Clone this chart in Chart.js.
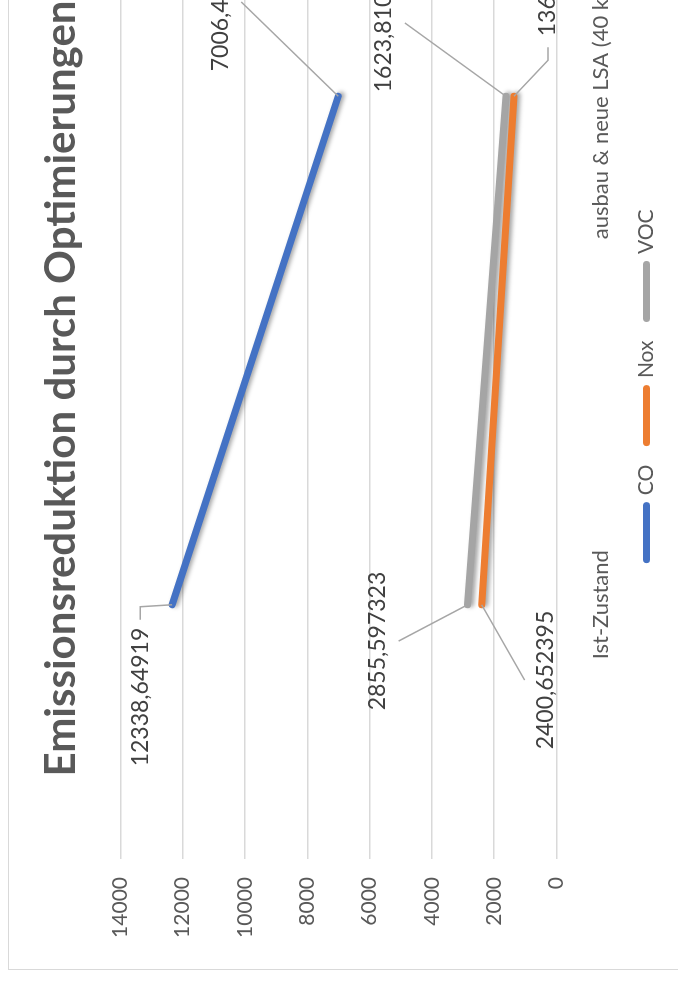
<!DOCTYPE html>
<html>
<head>
<meta charset="utf-8">
<script src="https://cdn.jsdelivr.net/npm/chart.js@4.4.1/dist/chart.umd.min.js"></script>
<style>
    html, body { margin: 0; padding: 0; background: #fff; overflow: hidden; width: 678px; height: 986px; }
    #frame {
        position: absolute; left: 0; top: 0;
        width: 1160px; height: 680px;
        transform-origin: 0 0;
        transform: translate(8px, 970px) rotate(-90deg);
        border-top: 1px solid #d9d9d9;
        border-left: 1px solid #d9d9d9;
        box-sizing: border-box;
        background: #fff;
    }
    #frame canvas { position: absolute; left: 0; top: 0; }
</style>
</head>
<body>
<div id="frame"><canvas id="emissionChart" width="1160" height="680"></canvas></div>
<script>
const categories = ['Ist-Zustand', 'ausbau & neue LSA (40 km/h)'];
const seriesNames = ['CO', 'Nox', 'VOC'];
const coValues = [12338.64919, 7006.412187];
const noxValues = [2400.652395, 1364.203761];
const vocValues = [2855.597323, 1623.810452];
const yMax = 14000;
const yStep = 2000;

const seriesColors = ['#4472C4', '#ED7D31', '#A5A5A5'];
const textColor = '#595959';

// where each data label sits relative to its point (chart is drawn unrotated)
const labelPlacement = [
    [{ dx: -23, dy: -32, align: 'right', attach: 'side' }, { dx: 25, dy: -118, align: 'left', attach: 'bottom' }],
    [{ dx: -6, dy: 64, align: 'right', attach: 'top' }, { dx: 60, dy: 34, align: 'left', attach: 'side' }],
    [{ dx: 33, dy: -90, align: 'right', attach: 'bottom' }, { dx: 4, dy: -122, align: 'left', attach: 'bottom' }]
];

const lineShadow = {
    id: 'lineShadow',
    beforeDatasetDraw(chart) {
        const c = chart.ctx;
        c.save();
        c.shadowColor = 'rgba(0, 0, 0, 0.35)';
        c.shadowBlur = 4;
        c.shadowOffsetX = 1;
        c.shadowOffsetY = 3;
    },
    afterDatasetDraw(chart) {
        chart.ctx.restore();
    }
};

// title and legend sit a little right of the chart centre in the original
const boxShift = {
    id: 'boxShift',
    afterLayout(chart) {
        const move = (box, dx) => { if (box) { box.left += dx; box.right += dx; } };
        move(chart.titleBlock, 12);
        move(chart.legend, 16);
    }
};

const dataLabels = {
    id: 'dataLabels',
    afterDatasetsDraw(chart) {
        const c = chart.ctx;
        c.save();
        c.font = '23px Lato';
        c.textBaseline = 'middle';
        chart.data.datasets.forEach((ds, di) => {
            const meta = chart.getDatasetMeta(di);
            meta.data.forEach((pt, i) => {
                const p = labelPlacement[di][i];
                const text = String(ds.data[i]).replace('.', ',');
                const w = c.measureText(text).width;
                const ax = pt.x + p.dx;
                const cy = pt.y + p.dy;
                const left = p.align === 'left' ? ax : ax - w;
                const right = left + w;
                const cx = (left + right) / 2;

                c.strokeStyle = '#a6a6a6';
                c.lineWidth = 1.5;
                c.beginPath();
                if (p.attach === 'side') {
                    const dir = pt.x > right ? 1 : -1;
                    const sx = dir > 0 ? right + 8 : left - 11;
                    c.moveTo(sx, cy);
                    c.lineTo(sx + dir * 13, cy);
                } else {
                    c.moveTo(cx, p.attach === 'bottom' ? cy + 21 : cy - 21);
                }
                c.lineTo(pt.x, pt.y);
                c.stroke();

                c.fillStyle = '#404040';
                c.textAlign = 'left';
                c.fillText(text, left, cy);
            });
        });
        c.restore();
    }
};

const lineSet = (label, data, color) => ({
    label: label,
    data: data,
    borderColor: color,
    backgroundColor: color,
    borderWidth: 7,
    borderCapStyle: 'round',
    borderJoinStyle: 'round',
    pointRadius: 0,
    tension: 0
});

const ctx = document.getElementById('emissionChart').getContext('2d');
new Chart(ctx, {
    type: 'line',
    data: {
        labels: categories,
        datasets: [
            lineSet(seriesNames[0], coValues, seriesColors[0]),
            lineSet(seriesNames[1], noxValues, seriesColors[1]),
            lineSet(seriesNames[2], vocValues, seriesColors[2])
        ]
    },
    options: {
        responsive: false,
        animation: false,
        devicePixelRatio: 1,
        layout: { padding: { left: 10, right: 33, top: 0, bottom: 22 } },
        plugins: {
            title: {
                display: true,
                text: 'Emissionsreduktion durch Optimierungen',
                color: textColor,
                font: { family: 'Lato', size: 42, weight: 'bold' },
                padding: { top: 27, bottom: 34 }
            },
            legend: {
                position: 'bottom',
                labels: {
                    usePointStyle: true,
                    pointStyle: 'line',
                    pointStyleWidth: 54,
                    color: textColor,
                    font: { family: 'Lato', size: 21 },
                    padding: 22,
                    generateLabels: chart => Chart.defaults.plugins.legend.labels.generateLabels(chart)
                        .map(item => Object.assign(item, { lineCap: 'round', lineWidth: 7 }))
                }
            },
            tooltip: { enabled: false }
        },
        scales: {
            x: {
                offset: true,
                grid: { display: false },
                border: { display: false },
                ticks: {
                    color: textColor,
                    font: { family: 'Lato', size: 22 },
                    padding: 23,
                    maxRotation: 0,
                    autoSkip: false
                },
                afterFit: s => { s.height = 57.5; }
            },
            y: {
                min: 0,
                max: yMax,
                ticks: {
                    stepSize: yStep,
                    padding: 18,
                    color: textColor,
                    font: { family: 'Lato', size: 21 },
                    callback: v => String(v)
                },
                grid: { color: '#d9d9d9', lineWidth: 1.5, drawTicks: false },
                border: { display: false },
                afterFit: s => { s.width = 100; }
            }
        }
    },
    plugins: [lineShadow, boxShift, dataLabels]
});
</script>
</body>
</html>
